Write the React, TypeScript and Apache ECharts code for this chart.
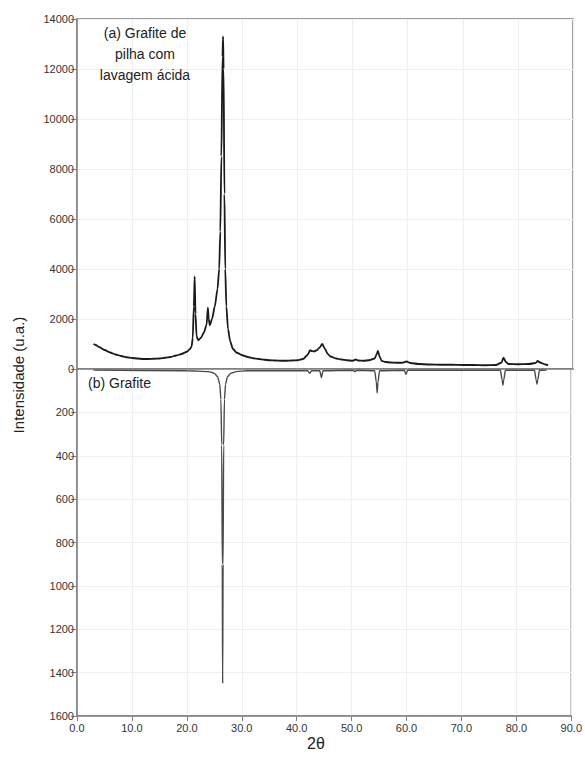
import React, { useEffect, useRef } from "react";
import * as echarts from "echarts";

// (a) Grafite de pilha com lavagem ácida — 2θ (deg) / intensity
const xA = [3.0, 3.5, 4, 5, 6, 7, 8, 9, 10, 11, 12, 13, 14, 15, 16, 17, 18, 19, 19.5, 20, 20.5, 20.8, 21.0, 21.2, 21.35, 21.5, 21.7, 22.0, 22.5, 23.0, 23.5, 23.75, 23.9, 24.1, 24.5, 25.0, 25.5, 25.8, 26.0, 26.2, 26.4, 26.5, 26.6, 26.75, 26.9, 27.1, 27.4, 27.8, 28.3, 29, 30, 31, 32, 33, 34, 35, 36, 37, 38, 39, 40, 41, 41.8, 42.3, 42.6, 43.0, 43.5, 44.0, 44.5, 45.0, 45.5, 46, 47, 48, 49, 50, 50.6, 51, 52, 53, 54.0, 54.4, 54.6, 54.9, 55.3, 56, 57, 58, 59, 59.8, 60.5, 62, 64, 66, 68, 70, 72, 74, 76, 77.0, 77.4, 77.8, 78.3, 80, 82, 83.2, 83.6, 84.0, 85.0, 85.5];
const yA = [1000, 950, 880, 760, 660, 580, 520, 470, 440, 420, 400, 400, 410, 420, 450, 480, 540, 600, 650, 700, 800, 900, 1250, 2500, 3700, 2200, 1300, 1150, 1250, 1450, 1750, 2450, 2000, 1750, 2000, 2500, 3200, 4000, 5500, 8500, 12500, 13300, 12000, 7000, 4000, 2500, 1600, 1100, 800, 650, 550, 480, 430, 400, 370, 350, 340, 330, 330, 340, 350, 400, 550, 750, 720, 700, 750, 850, 1000, 800, 600, 500, 420, 380, 350, 330, 380, 340, 330, 350, 420, 600, 720, 500, 320, 280, 260, 250, 250, 300, 240, 200, 180, 170, 170, 160, 160, 150, 160, 250, 450, 280, 200, 190, 200, 240, 320, 260, 180, 150];

// (b) Grafite — 2θ (deg) / intensity (plotted downwards)
const xB = [3, 20, 24, 25, 25.6, 26.0, 26.2, 26.35, 26.45, 26.52, 26.6, 26.7, 26.85, 27.05, 27.4, 28, 29, 31, 42.0, 42.4, 42.7, 44.2, 44.5, 44.8, 50.3, 50.6, 50.9, 54.2, 54.5, 54.65, 54.8, 55.1, 59.6, 59.9, 60.2, 77.1, 77.4, 77.55, 77.7, 78, 83.3, 83.6, 83.75, 83.9, 84.2, 85.5];
const yB = [5, 8, 12, 20, 35, 70, 140, 350, 900, 1450, 900, 350, 140, 70, 35, 20, 12, 8, 8, 20, 8, 8, 40, 8, 6, 12, 6, 8, 60, 110, 60, 8, 6, 25, 6, 6, 50, 75, 50, 6, 6, 50, 70, 50, 6, 5];

const topTicks = [0, 14000, 2000];
const bottomTicks = [0, 1600, 200];
const xTicks = [0, 90, 10];

export default function App() {
  const ref = useRef<HTMLDivElement>(null);
  useEffect(() => {
    if (!ref.current) return;
    const chart = echarts.init(ref.current, null, { renderer: "svg" });
    const font = "Liberation Sans, Arial, sans-serif";
    const axisCol = "#808080";
    const gridLine = { show: true, lineStyle: { color: "#efefef", width: 1 } };
    const labelStyle = { color: "#333", fontSize: 11, fontFamily: font };
    chart.setOption({
      animation: false,
      backgroundColor: "#fff",
      grid: [
        { left: 77, right: 12, top: 19, height: 350, show: true, borderColor: axisCol, borderWidth: 1.5 },
        { left: 77, right: 12, top: 369, height: 347, show: true, borderColor: axisCol, borderWidth: 1.5 },
      ],
      xAxis: [
        {
          type: "value", gridIndex: 0, min: xTicks[0], max: xTicks[1], interval: xTicks[2],
          axisLine: { show: true, onZero: false, lineStyle: { color: axisCol, width: 1.5 } },
          axisTick: { show: false }, axisLabel: { show: false }, splitLine: gridLine,
        },
        {
          type: "value", gridIndex: 1, min: xTicks[0], max: xTicks[1], interval: xTicks[2],
          axisLine: { show: true, onZero: false, lineStyle: { color: axisCol, width: 1.5 } },
          axisTick: { show: true, length: 5, lineStyle: { color: axisCol } },
          axisLabel: { ...labelStyle, margin: 6, formatter: (v: number) => v.toFixed(1) },
          splitLine: gridLine,
        },
      ],
      yAxis: [
        {
          type: "value", gridIndex: 0, min: topTicks[0], max: topTicks[1], interval: topTicks[2],
          axisLine: { show: true, onZero: false, lineStyle: { color: axisCol, width: 1.5 } },
          axisTick: { show: true, length: 6, lineStyle: { color: axisCol } },
          axisLabel: { ...labelStyle, margin: 3, formatter: (v: number) => String(v) },
          splitLine: gridLine,
        },
        {
          type: "value", gridIndex: 1, min: bottomTicks[0], max: bottomTicks[1], interval: bottomTicks[2], inverse: true,
          axisLine: { show: true, onZero: false, lineStyle: { color: axisCol, width: 1.5 } },
          axisTick: { show: true, length: 6, lineStyle: { color: axisCol } },
          axisLabel: { ...labelStyle, margin: 3, showMinLabel: false, formatter: (v: number) => String(v) },
          splitLine: gridLine,
        },
      ],
      series: [
        {
          type: "line", xAxisIndex: 0, yAxisIndex: 0, showSymbol: false, smooth: 0.25, smoothMonotone: "x",
          data: xA.map((x, i) => [x, yA[i]]),
          lineStyle: { color: "#1a1a1a", width: 1.8 },
        },
        {
          type: "line", xAxisIndex: 1, yAxisIndex: 1, showSymbol: false, smooth: 0.25, smoothMonotone: "x",
          data: xB.map((x, i) => [x, yB[i]]),
          lineStyle: { color: "#4a4a4a", width: 1.4 },
        },
      ],
      graphic: [
        { type: "text", x: 145, y: 33, z: 100, style: { text: "(a) Grafite de", fill: "#222", font: `14px ${font}`, textAlign: "center", textVerticalAlign: "middle" } },
        { type: "text", x: 145, y: 54, z: 100, style: { text: "pilha com", fill: "#222", font: `14px ${font}`, textAlign: "center", textVerticalAlign: "middle" } },
        { type: "text", x: 145, y: 75, z: 100, style: { text: "lavagem ácida", fill: "#222", font: `14px ${font}`, textAlign: "center", textVerticalAlign: "middle" } },
        { type: "text", x: 88, y: 383, z: 100, style: { text: "(b) Grafite", fill: "#222", font: `14px ${font}`, textAlign: "left", textVerticalAlign: "middle" } },
        { type: "text", x: 18, y: 375, rotation: Math.PI / 2, style: { text: "Intensidade (u.a.)", fill: "#222", font: `15px ${font}`, textAlign: "center", textVerticalAlign: "middle" } },
        { type: "text", x: 316, y: 743, style: { text: "2θ", fill: "#222", font: `16px ${font}`, textAlign: "center", textVerticalAlign: "middle" } },
      ],
    });
    return () => chart.dispose();
  }, []);
  return <div ref={ref} style={{ position: "fixed", left: 0, top: 0, width: 585, height: 758 }} />;
}
